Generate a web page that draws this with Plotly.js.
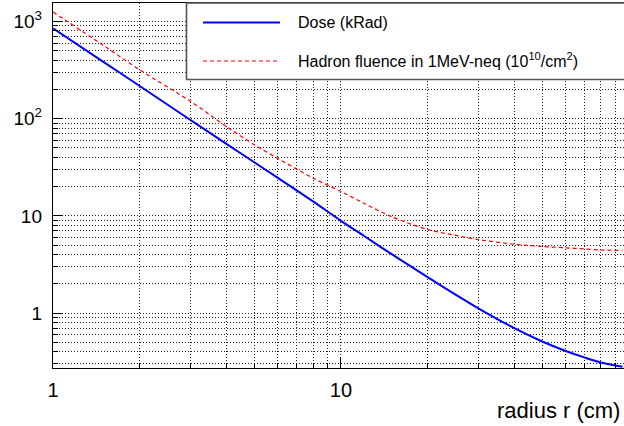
<!DOCTYPE html>
<html>
<head>
<meta charset="utf-8">
<script src="https://cdn.plot.ly/plotly-3.0.1.min.js"></script>
<style>html,body{margin:0;padding:0;background:#fff;}#chart{width:624px;height:426px;}</style>
</head>
<body>
<div id="chart"></div>
<script>
// ---- data ----
const radius  = [1, 1.5, 2, 3, 4, 5, 6, 8, 10, 12, 15, 20, 25, 30, 40, 50, 60, 70, 80, 95];
const dose    = [850, 382, 217, 97, 55, 35.6, 24.9, 14.1, 8.9, 6.24, 4.04, 2.34, 1.55, 1.12, 0.70, 0.51, 0.41, 0.35, 0.31, 0.28];
const fluence = [1250, 565, 318, 151, 83, 54, 39.4, 24.5, 17.8, 13.5, 9.8, 7.24, 6.3, 5.7, 5.1, 4.84, 4.7, 4.57, 4.45, 4.42];

const xMajorVals = [1, 10];
const xMajorText = ["1", "10"];
const xMinorVals = [2,3,4,5,6,7,8,9,20,30,40,50,60,70,80,90];
const yMajorVals = [1, 10, 100, 1000];
const yMajorText = ["1", "10", "10<sup>2</sup>", "10<sup>3</sup>"];
const yMinorVals = [0.3,0.4,0.5,0.6,0.7,0.8,0.9,2,3,4,5,6,7,8,9,20,30,40,50,60,70,80,90,200,300,400,500,600,700,800,900];

const seriesNames = ["Dose (kRad)", "Hadron fluence in 1MeV-neq (10<sup>10</sup>/cm<sup>2</sup>)"];
const xTitle = "radius r (cm)";

// ---- layout geometry ----
const W = 624, H = 426;
const M = {l: 53, r: 0, t: 3, b: 58};
const pw = W - M.l - M.r, ph = H - M.t - M.b;
const px = v => (v - M.l) / pw;          // pixel x -> paper
const py = v => (H - M.b - v) / ph;      // pixel y -> paper

const FONT = "Liberation Sans, Arial, Helvetica, sans-serif";
const GRID = {color: "#222", dash: "1px,2px", width: 1};

const traces = [
  {x: radius, y: dose, type: "scatter", mode: "lines", name: seriesNames[0],
   line: {color: "#0000ff", width: 2, shape: "spline", smoothing: 0.8}, showlegend: false},
  {x: radius, y: fluence, type: "scatter", mode: "lines", name: seriesNames[1],
   line: {color: "#ff0000", width: 1.2, dash: "4px,3px", shape: "spline", smoothing: 0.8}, showlegend: false}
];

const axisCommon = {
  type: "log", showline: true, mirror: true, linecolor: "#000", linewidth: 1.2,
  ticks: "inside", ticklen: 10, tickwidth: 1, tickcolor: "#000",
  showgrid: true, gridcolor: GRID.color, griddash: GRID.dash, gridwidth: GRID.width,
  tickmode: "array", zeroline: false
};

const layout = {
  width: W, height: H, margin: M,
  paper_bgcolor: "#fff", plot_bgcolor: "#fff",
  showlegend: false,
  font: {family: FONT, color: "#000"},
  xaxis: Object.assign({}, axisCommon, {
    range: [0, 1.983],
    tickvals: xMajorVals, ticktext: xMajorText,
    tickfont: {size: 20, family: FONT, color: "#000"},
    ticklabelstandoff: 4,
    minor: {tickmode: "array", tickvals: xMinorVals, ticks: "inside", ticklen: 5, tickcolor: "#000",
            showgrid: true, gridcolor: GRID.color, griddash: GRID.dash, gridwidth: GRID.width}
  }),
  yaxis: Object.assign({}, axisCommon, {
    range: [-0.565, 3.19],
    tickvals: yMajorVals, ticktext: yMajorText,
    tickfont: {size: 19, family: FONT, color: "#000"},
    ticklabelstandoff: 6,
    minor: {tickmode: "array", tickvals: yMinorVals, ticks: "inside", ticklen: 5, tickcolor: "#000",
            showgrid: true, gridcolor: GRID.color, griddash: GRID.dash, gridwidth: GRID.width}
  }),
  shapes: [
    // legend box
    {type: "rect", xref: "paper", yref: "paper", x0: px(186.5), x1: px(630), y0: py(79.5), y1: py(3),
     fillcolor: "#fff", line: {color: "#555", width: 1.6}, layer: "above"},
    // legend samples
    {type: "line", xref: "paper", yref: "paper", x0: px(203), x1: px(280), y0: py(22.5), y1: py(22.5),
     line: {color: "#0000ff", width: 2}, layer: "above"},
    {type: "line", xref: "paper", yref: "paper", x0: px(203), x1: px(280), y0: py(61), y1: py(61),
     line: {color: "#ff0000", width: 1.2, dash: "4px,3px"}, layer: "above"}
  ],
  annotations: [
    {xref: "paper", yref: "paper", x: px(296), y: py(22), xanchor: "left", yanchor: "middle",
     text: seriesNames[0], showarrow: false, font: {size: 16, family: FONT, color: "#000"}},
    {xref: "paper", yref: "paper", x: px(296), y: py(60), xanchor: "left", yanchor: "middle",
     text: seriesNames[1], showarrow: false, font: {size: 16, family: FONT, color: "#000"}},
    {xref: "paper", yref: "paper", x: px(622), y: py(410), xanchor: "right", yanchor: "middle",
     text: xTitle, showarrow: false, font: {size: 22, family: FONT, color: "#000"}}
  ]
};

Plotly.newPlot("chart", traces, layout, {staticPlot: true, displayModeBar: false});
</script>
</body>
</html>
